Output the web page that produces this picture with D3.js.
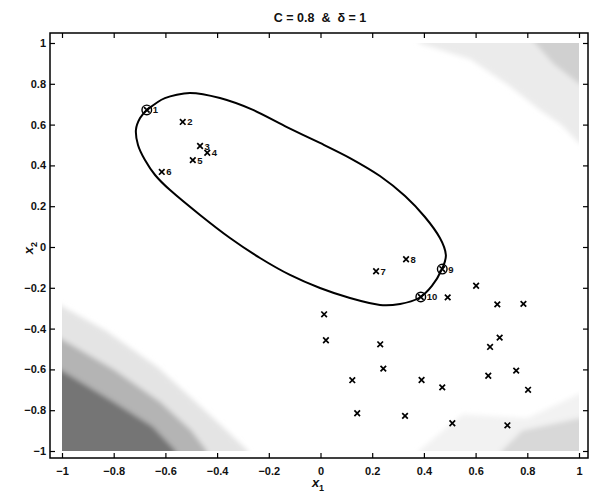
<!DOCTYPE html>
<html>
<head>
<meta charset="utf-8">
<script src="https://cdn.jsdelivr.net/npm/d3@7"></script>
<style>
  body { margin: 0; background: #fff; }
  text { font-family: "Liberation Sans", Arial, Helvetica, sans-serif; fill: #111; }
</style>
</head>
<body>
<svg id="chart" width="591" height="496"></svg>
<script>
// axis ticks
var ticks = [-1, -0.8, -0.6, -0.4, -0.2, 0, 0.2, 0.4, 0.6, 0.8, 1];
var tickLabels = ["\u22121", "\u22120.8", "\u22120.6", "\u22120.4", "\u22120.2", "0", "0.2", "0.4", "0.6", "0.8", "1"];

// numbered training points (1..10)
var labeledX = [-0.672, -0.533, -0.466, -0.438, -0.494, -0.614, 0.215, 0.331, 0.471, 0.388];
var labeledY = [0.672, 0.613, 0.495, 0.462, 0.426, 0.368, -0.119, -0.060, -0.108, -0.245];
var labelNames = ["1", "2", "3", "4", "5", "6", "7", "8", "9", "10"];
var supportIdx = [0, 8, 9]; // circled points 1, 9, 10

// other points (lower right)
var otherX = [0.492, 0.602, 0.684, 0.785, 0.014, 0.021, 0.231, 0.693, 0.656, 0.243,
              0.123, 0.391, 0.471, 0.649, 0.757, 0.803, 0.142, 0.327, 0.510, 0.723];
var otherY = [-0.247, -0.190, -0.281, -0.279, -0.330, -0.457, -0.477, -0.444, -0.490, -0.596,
              -0.653, -0.652, -0.688, -0.631, -0.606, -0.700, -0.815, -0.828, -0.864, -0.874];

// description boundary
var contourX = [-0.671, -0.602, -0.505, -0.389, -0.261, -0.130, -0.002, 0.114, 0.230, 0.327,
                0.404, 0.462, 0.485, 0.470, 0.431, 0.381, 0.308, 0.230, 0.114, -0.002,
                -0.118, -0.234, -0.350, -0.466, -0.582, -0.640, -0.679, -0.706, -0.714, -0.698];
var contourY = [0.672, 0.730, 0.755, 0.730, 0.672, 0.588, 0.510, 0.436, 0.348, 0.250,
                0.147, 0.044, -0.039, -0.108, -0.191, -0.250, -0.279, -0.284, -0.250, -0.201,
                -0.137, -0.054, 0.044, 0.157, 0.279, 0.353, 0.426, 0.500, 0.574, 0.632];

// grey background regions (polygons, clipped to the image extent)
var shadeX = [
  [-1.1, -0.83, -0.63, -0.50, -0.38, -0.28, -0.28, -1.1],
  [-1.1, -0.80, -0.62, -0.50, -0.44, -0.44, -1.1],
  [-1.1, -0.80, -0.65, -0.56, -0.56, -1.1],
  [0.38, 0.38, 1.1, 1.1, 1.0, 0.93, 0.85, 0.73, 0.58],
  [0.76, 1.1, 1.1, 1.0, 0.90],
  [0.38, 0.55, 0.80, 1.0, 1.1, 1.1, 0.38],
  [0.70, 0.78, 1.0, 1.1, 1.1, 0.70]
];
var shadeY = [
  [-0.22, -0.41, -0.59, -0.74, -0.88, -1, -1.1, -1.1],
  [-0.38, -0.60, -0.76, -0.90, -1, -1.1, -1.1],
  [-0.53, -0.76, -0.88, -1, -1.1, -1.1],
  [1.0, 1.1, 1.1, 0.47, 0.51, 0.60, 0.67, 0.79, 0.92],
  [1.1, 1.1, 0.78, 0.80, 0.90],
  [-1, -0.82, -0.84, -0.72, -0.70, -1.1, -1.1],
  [-1, -0.90, -0.84, -0.84, -1.1, -1.1]
];
var shadeGrey = ["#e4e4e4", "#b4b4b4", "#747474", "#ebebeb", "#d0d0d0", "#f2f2f2", "#d8d8d8"];

// set the dimensions and margins of the graph
var margin = {top: 33, right: 3, bottom: 38, left: 50},
    width = 591 - margin.left - margin.right,
    height = 496 - margin.top - margin.bottom;

var svg = d3.select("#chart")
  .append("g")
  .attr("transform", "translate(" + margin.left + "," + margin.top + ")");

var x = d3.scaleLinear().domain([-1, 1]).range([12, 529]);
var y = d3.scaleLinear().domain([-1, 1]).range([418, 10]);

var defs = d3.select("#chart").append("defs");
defs.append("filter").attr("id", "soft")
  .append("feGaussianBlur").attr("stdDeviation", 2.5);
defs.append("clipPath").attr("id", "box")
  .append("rect").attr("x", x(-1)).attr("y", y(1))
  .attr("width", x(1) - x(-1)).attr("height", y(-1) - y(1));

// background shading
var shade = svg.append("g").attr("clip-path", "url(#box)")
  .append("g").attr("filter", "url(#soft)");
shadeX.forEach(function(px, i) {
  var pts = px.map(function(v, j) { return [x(v), y(shadeY[i][j])]; });
  shade.append("path")
    .attr("d", "M" + pts.join("L") + "Z")
    .attr("fill", shadeGrey[i]);
});

// frame
svg.append("rect")
  .attr("width", width)
  .attr("height", height)
  .attr("fill", "none")
  .attr("stroke", "#000")
  .attr("stroke-width", 1.5);

function fmt(d) { return tickLabels[ticks.indexOf(d)]; }

// X axis (ticks inside)
var xb = svg.append("g")
  .attr("transform", "translate(0," + height + ")")
  .call(d3.axisBottom(x).tickValues(ticks).tickFormat(fmt).tickSize(-5).tickPadding(9));
var xt = svg.append("g")
  .call(d3.axisTop(x).tickValues(ticks).tickFormat("").tickSize(-5));
// Y axis
var yl = svg.append("g")
  .call(d3.axisLeft(y).tickValues(ticks).tickFormat(fmt).tickSize(-5).tickPadding(4));
var yr = svg.append("g")
  .attr("transform", "translate(" + width + ",0)")
  .call(d3.axisRight(y).tickValues(ticks).tickFormat("").tickSize(-5));
[xb, xt, yl, yr].forEach(function(a) {
  a.select(".domain").remove();
  a.selectAll(".tick line").attr("stroke", "#000").attr("stroke-width", 1.2);
  a.selectAll("text")
    .attr("font-size", "11px")
    .attr("font-weight", "bold")
    .attr("font-family", "Liberation Sans, Arial, sans-serif")
    .attr("fill", "#111");
});

// boundary
var line = d3.line()
  .x(function(d) { return x(d[0]); })
  .y(function(d) { return y(d[1]); })
  .curve(d3.curveCardinalClosed.tension(0.2));
svg.append("path")
  .datum(contourX.map(function(v, i) { return [v, contourY[i]]; }))
  .attr("d", line)
  .attr("fill", "none")
  .attr("stroke", "#000")
  .attr("stroke-width", 2);

function cross(g, cx, cy, s) {
  g.append("path")
    .attr("d", "M" + (cx - s) + "," + (cy - s) + "L" + (cx + s) + "," + (cy + s) +
               "M" + (cx - s) + "," + (cy + s) + "L" + (cx + s) + "," + (cy - s))
    .attr("stroke", "#000")
    .attr("stroke-width", 1.7)
    .attr("fill", "none");
}

var marks = svg.append("g");
otherX.forEach(function(v, i) { cross(marks, x(v), y(otherY[i]), 2.8); });
labeledX.forEach(function(v, i) {
  var cx = x(v), cy = y(labeledY[i]);
  cross(marks, cx, cy, 2.8);
  if (supportIdx.indexOf(i) >= 0) {
    marks.append("circle")
      .attr("cx", cx).attr("cy", cy).attr("r", 4.8)
      .attr("fill", "none").attr("stroke", "#000").attr("stroke-width", 1.4);
  }
  marks.append("text")
    .attr("x", cx + (supportIdx.indexOf(i) >= 0 ? 6 : 4.5))
    .attr("y", cy + 3.5)
    .attr("font-size", "9.5px")
    .attr("font-weight", "bold")
    .text(labelNames[i]);
});

// title
d3.select("#chart").append("text")
  .attr("x", 320)
  .attr("y", 22)
  .attr("text-anchor", "middle")
  .attr("font-size", "12.5px")
  .attr("font-weight", "bold")
  .attr("xml:space", "preserve")
  .text("C = 0.8  &  \u03b4 = 1");

// axis labels
var xl = d3.select("#chart").append("text")
  .attr("x", 318)
  .attr("y", 487)
  .attr("text-anchor", "middle")
  .attr("font-size", "13px")
  .attr("font-weight", "bold");
xl.append("tspan").attr("font-style", "italic").text("x");
xl.append("tspan").attr("font-size", "9px").attr("dy", 4).text("1");

var ylab = d3.select("#chart").append("text")
  .attr("transform", "translate(33,248)rotate(-90)")
  .attr("text-anchor", "middle")
  .attr("font-size", "13px")
  .attr("font-weight", "bold");
ylab.append("tspan").attr("font-style", "italic").text("x");
ylab.append("tspan").attr("font-size", "9px").attr("dy", 4).text("2");
</script>
</body>
</html>
